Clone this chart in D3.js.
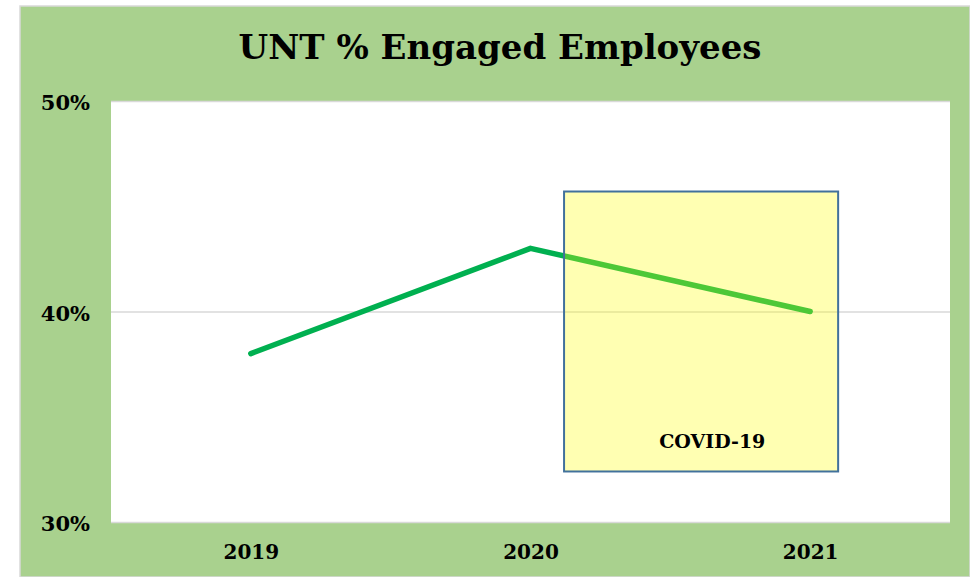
<!DOCTYPE html>
<html>
<head>
<meta charset="utf-8">
<script src="https://cdn.jsdelivr.net/npm/d3@7"></script>
<style>
  html, body { margin: 0; padding: 0; background: #fff; }
  svg { display: block; }
</style>
</head>
<body>
<div id="chart"></div>
<script>
// Chart data
const years = ['2019', '2020', '2021'];
const engaged = [38, 43, 40];
const yTicks = [30, 40, 50];
const yTickLabels = ['30%', '40%', '50%'];
const chartTitle = 'UNT % Engaged Employees';

// COVID-19 annotation box, in data units (x as year index, y as percent)
const covidLabel = 'COVID-19';
const covidSpan = [1.12, 2.1];
const covidRange = [32.4, 45.7];
const covidLabelPos = [1.65, 33.5];

const width = 970;
const height = 577;
const margin = { top: 101, right: 20, bottom: 55, left: 111 };
const innerWidth = width - margin.left - margin.right;
const innerHeight = height - margin.top - margin.bottom;
const font = '"DejaVu Serif", Georgia, serif';

const svg = d3.select('#chart')
    .append('svg')
    .attr('width', width)
    .attr('height', height);

// Outer green frame
svg.append('rect')
    .attr('x', 20)
    .attr('y', 6)
    .attr('width', width - 20)
    .attr('height', height - 6)
    .attr('fill', '#a9d18e')
    .attr('stroke', '#d9d9d9')
    .attr('stroke-width', 1.5);

// Plot area
svg.append('rect')
    .attr('x', margin.left)
    .attr('y', margin.top)
    .attr('width', innerWidth)
    .attr('height', innerHeight)
    .attr('fill', '#fff');

// Scales
const xScale = d3.scalePoint()
    .domain(years)
    .range([margin.left, margin.left + innerWidth])
    .padding(0.5);

const xIndex = d3.scaleLinear()
    .domain([-0.5, years.length - 0.5])
    .range([margin.left, margin.left + innerWidth]);

const yScale = d3.scaleLinear()
    .domain([30, 50])
    .range([margin.top + innerHeight, margin.top]);

// Y axis with gridlines
const yAxis = d3.axisLeft(yScale)
    .tickValues(yTicks)
    .tickFormat((d, i) => yTickLabels[i])
    .tickSize(-innerWidth)
    .tickPadding(21);

const yg = svg.append('g')
    .attr('transform', `translate(${margin.left}, 0)`)
    .call(yAxis);
yg.select('.domain').remove();
yg.selectAll('line')
    .attr('stroke', '#d9d9d9')
    .attr('stroke-width', 1.5);
yg.selectAll('text')
    .attr('dy', '0.42em')
    .attr('font-family', font)
    .attr('font-weight', 'bold')
    .attr('font-size', 21)
    .attr('fill', '#000');

// X axis
const xAxis = d3.axisBottom(xScale)
    .tickSize(0)
    .tickPadding(23);

const xg = svg.append('g')
    .attr('transform', `translate(0, ${margin.top + innerHeight})`)
    .call(xAxis);
xg.select('.domain').remove();
xg.selectAll('text')
    .attr('font-family', font)
    .attr('font-weight', 'bold')
    .attr('font-size', 20)
    .attr('fill', '#000');

// Line
const line = d3.line()
    .x((d, i) => xScale(years[i]))
    .y(d => yScale(d));

svg.append('path')
    .datum(engaged)
    .attr('d', line)
    .attr('fill', 'none')
    .attr('stroke', '#00b050')
    .attr('stroke-width', 5.5)
    .attr('stroke-linecap', 'round')
    .attr('stroke-linejoin', 'round');

// COVID-19 box (semi-transparent, drawn over the line)
svg.append('rect')
    .attr('x', xIndex(covidSpan[0]))
    .attr('y', yScale(covidRange[1]))
    .attr('width', xIndex(covidSpan[1]) - xIndex(covidSpan[0]))
    .attr('height', yScale(covidRange[0]) - yScale(covidRange[1]))
    .attr('fill', 'rgba(255, 255, 0, 0.3)')
    .attr('stroke', '#41719c')
    .attr('stroke-width', 2);

svg.append('text')
    .attr('x', xIndex(covidLabelPos[0]))
    .attr('y', yScale(covidLabelPos[1]))
    .attr('text-anchor', 'middle')
    .attr('font-family', font)
    .attr('font-weight', 'bold')
    .attr('font-size', 19)
    .attr('fill', '#000')
    .text(covidLabel);

// Title
svg.append('text')
    .attr('x', 500)
    .attr('y', 59)
    .attr('text-anchor', 'middle')
    .attr('font-family', font)
    .attr('font-weight', 'bold')
    .attr('font-size', 34)
    .attr('fill', '#000')
    .text(chartTitle);
</script>
</body>
</html>
